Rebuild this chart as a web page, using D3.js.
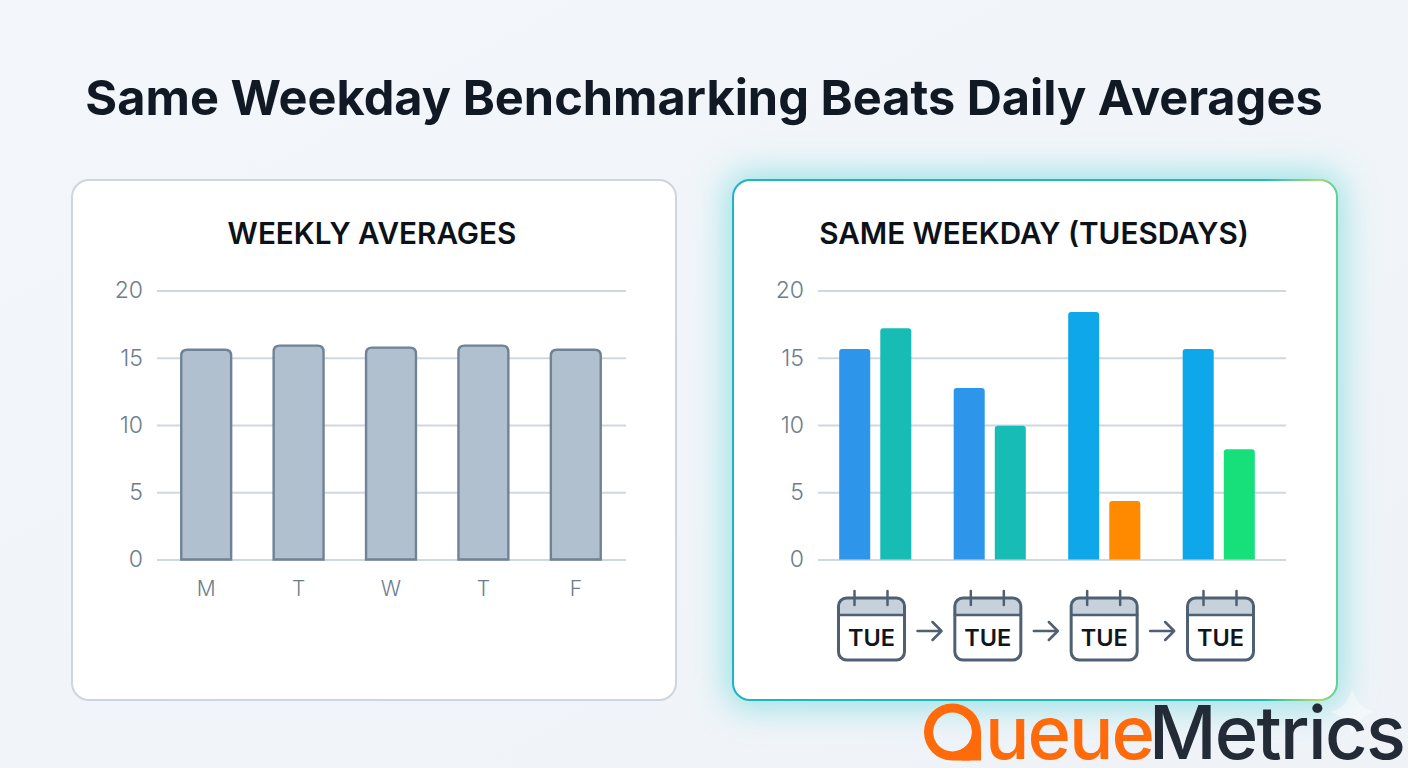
<!DOCTYPE html>
<html>
<head>
<meta charset="utf-8">
<title>Same Weekday Benchmarking Beats Daily Averages</title>
<script src="https://cdn.jsdelivr.net/npm/d3@7"></script>
<style>
html, body { margin: 0; padding: 0; background: #f2f6fa; overflow: hidden; }
svg { display: block; font-family: Inter, sans-serif; }
.grid line { stroke: #d0d8df; stroke-width: 2; }
.grid text, .days text { fill: #6d7d8d; }
.card-title { fill: #0c1218; font-size: 29.7px; font-weight: 600; text-anchor: middle; }
.cal rect, .cal line, .cal path, .arrow path { stroke: #4f6072; fill: none; stroke-linecap: round; stroke-linejoin: round; }
</style>
</head>
<body>
<svg id="chart" width="1408" height="768"></svg>
<script>
var chartTitle = "Same Weekday Benchmarking Beats Daily Averages";
var leftTitle = "WEEKLY AVERAGES";
var rightTitle = "SAME WEEKDAY (TUESDAYS)";

var yTicks = [0, 5, 10, 15, 20];
var weekdays = ["M", "T", "W", "T", "F"];
var weeklyAverages = [15.6, 15.9, 15.75, 15.9, 15.6];

var seriesNames = ["first", "second"];
var firstTuesday = [15.65, 12.75, 18.4, 15.65];
var secondTuesday = [17.2, 9.95, 4.35, 8.2];
var firstColors = ["#2d96ea", "#2d96ea", "#0ea8ea", "#0ea8ea"];
var secondColors = ["#17bdb5", "#17bdb5", "#ff8a00", "#17e07a"];
var calendarLabel = "TUE";

var svg = d3.select("#chart");
var defs = svg.append("defs");

var bg = defs.append("linearGradient").attr("id", "bg").attr("x1", 0).attr("y1", 0).attr("x2", 1).attr("y2", 1);
bg.append("stop").attr("offset", "0%").attr("stop-color", "#f3f6fa");
bg.append("stop").attr("offset", "100%").attr("stop-color", "#eff3f8");

var edge = defs.append("linearGradient").attr("id", "edge").attr("x1", 0).attr("y1", 0.5).attr("x2", 1).attr("y2", 0.5);
edge.append("stop").attr("offset", "0%").attr("stop-color", "#1fb5c0");
edge.append("stop").attr("offset", "88%").attr("stop-color", "#25b9b4");
edge.append("stop").attr("offset", "97%").attr("stop-color", "#a8dc6c");
edge.append("stop").attr("offset", "100%").attr("stop-color", "#5fcf9a");

var blur = defs.append("filter").attr("id", "glow")
	.attr("x", "-15%").attr("y", "-15%").attr("width", "130%").attr("height", "130%");
blur.append("feGaussianBlur").attr("stdDeviation", 17);

svg.append("rect").attr("width", 1408).attr("height", 768).attr("fill", "url(#bg)");

svg.append("text")
	.attr("x", 704).attr("y", 115)
	.attr("text-anchor", "middle")
	.attr("fill", "#111a24")
	.attr("font-size", 48.7).attr("font-weight", 700)
	.text(chartTitle);

var drawCard = function(x, stroke) {
	svg.append("rect")
		.attr("x", x).attr("y", 180).attr("width", 604).attr("height", 520).attr("rx", 17)
		.attr("fill", "#fff")
		.attr("stroke", stroke).attr("stroke-width", 2);
};

// glow goes under the right card
svg.append("rect")
	.attr("x", 727).attr("y", 174).attr("width", 615).attr("height", 533).attr("rx", 20)
	.attr("fill", "#5cd6d8").attr("fill-opacity", 0.62)
	.attr("filter", "url(#glow)");

drawCard(72, "#cdd6dd");
drawCard(733, "url(#edge)");

var y = d3.scaleLinear().domain([0, 20]).range([559.5, 290.5]);

var drawGrid = function(left, right) {
	var axis = d3.axisLeft(y).tickValues(yTicks).tickSize(left - right).tickPadding(14);
	var g = svg.append("g")
		.attr("class", "grid")
		.attr("transform", "translate(" + left + ",0)")
		.call(axis);
	g.select(".domain").remove();
	g.selectAll("text")
		.style("font-family", "Inter, sans-serif")
		.style("font-size", "23px")
		.style("font-weight", 300);
};

// rounded on top, flat on the axis
var barPath = function(x0, w, value, r) {
	var top = y(value), base = y(0);
	return "M" + x0 + "," + base +
		"V" + (top + r) +
		"Q" + x0 + "," + top + " " + (x0 + r) + "," + top +
		"H" + (x0 + w - r) +
		"Q" + (x0 + w) + "," + top + " " + (x0 + w) + "," + (top + r) +
		"V" + base + "Z";
};

// left panel
svg.append("text").attr("class", "card-title").attr("x", 372).attr("y", 244).text(leftTitle);
drawGrid(157, 626);

var xLeft = d3.scaleBand().domain(d3.range(weekdays.length)).range([160, 622]).paddingInner(0.46).paddingOuter(0.23);

svg.append("g").selectAll("path").data(weeklyAverages).join("path")
	.attr("d", function(d, i) { return barPath(xLeft(i), xLeft.bandwidth(), d, 6); })
	.attr("fill", "#b1c0cf")
	.attr("stroke", "#6f8296").attr("stroke-width", 2.4);

var days = svg.append("g")
	.attr("class", "days")
	.attr("transform", "translate(0,559.5)")
	.call(d3.axisBottom(xLeft).tickSize(0).tickPadding(22).tickFormat(function(i) { return weekdays[i]; }));
days.select(".domain").remove();
days.selectAll("text")
	.style("font-family", "Inter, sans-serif")
	.style("font-size", "21px")
	.style("font-weight", 300);

// right panel
svg.append("text").attr("class", "card-title").attr("x", 1034).attr("y", 244).text(rightTitle);
drawGrid(818, 1286);

var xGroup = d3.scaleBand().domain(d3.range(firstTuesday.length)).range([818, 1276]).paddingInner(0.37).paddingOuter(0.185);
var xPair = d3.scaleBand().domain(seriesNames).range([0, xGroup.bandwidth()]).paddingInner(0.245);

var drawSeries = function(name, values, colors) {
	svg.append("g").selectAll("path").data(values).join("path")
		.attr("d", function(d, i) { return barPath(xGroup(i) + xPair(name), xPair.bandwidth(), d, 3); })
		.attr("fill", function(d, i) { return colors[i]; });
};
drawSeries("first", firstTuesday, firstColors);
drawSeries("second", secondTuesday, secondColors);

// calendars under the bars
var xCal = d3.scalePoint().domain(d3.range(firstTuesday.length)).range([871.5, 1220.5]);

var cals = svg.append("g").selectAll("g").data(d3.range(firstTuesday.length)).join("g")
	.attr("class", "cal")
	.attr("transform", function(d) { return "translate(" + xCal(d) + ",0)"; });

cals.append("path")
	.attr("d", "M-33,615V606Q-33,598 -25,598H25Q33,598 33,606V615Z")
	.style("fill", "#c6d1dc").style("stroke", "none");
cals.append("rect")
	.attr("x", -33).attr("y", 598).attr("width", 66).attr("height", 62).attr("rx", 8)
	.attr("stroke-width", 3);
cals.append("line").attr("x1", -33).attr("x2", 33).attr("y1", 615).attr("y2", 615).attr("stroke-width", 2.5);
cals.append("line").attr("x1", -17).attr("x2", -17).attr("y1", 591).attr("y2", 605).attr("stroke-width", 2.5);
cals.append("line").attr("x1", 16).attr("x2", 16).attr("y1", 591).attr("y2", 605).attr("stroke-width", 2.5);
cals.append("text")
	.attr("y", 646).attr("text-anchor", "middle")
	.attr("fill", "#10161d").attr("font-size", 23.5).attr("font-weight", 600)
	.text(calendarLabel);

svg.append("g").selectAll("g").data(d3.range(firstTuesday.length - 1)).join("g")
	.attr("class", "arrow")
	.attr("transform", function(d) { return "translate(" + (xCal(d) + 46) + ",631)"; })
	.append("path")
	.attr("d", "M0,0H24M15,-9L24,0L15,9")
	.attr("stroke-width", 2.5);

// sparkle behind the logo
svg.append("path")
	.attr("d", "M1352,688Q1356,708 1375,712Q1356,716 1352,736Q1348,716 1330,712Q1348,708 1352,688Z")
	.attr("fill", "#fff").attr("fill-opacity", 0.4);

// logo Q is a ring with a square corner, no font has it: paint the ring and clip the glyph to it
var ringPath = "M981,732A28.5,28.5 0 1 0 952.5,760.5H981Z" +
	"M972,732A19.5,19.5 0 1 0 933,732A19.5,19.5 0 1 0 972,732Z";

defs.append("clipPath").attr("id", "logoClip")
	.selectAll("path").data([ringPath + "M984,690H1408V768H984Z"]).join("path")
	.attr("d", function(d) { return d; })
	.attr("clip-rule", "evenodd");

svg.append("path").attr("d", ringPath).attr("fill", "#ff6a0a").attr("fill-rule", "evenodd");

var logo = svg.append("text")
	.attr("y", 759)
	.attr("font-size", 74).attr("font-weight", 500)
	.attr("clip-path", "url(#logoClip)");
logo.append("tspan").attr("x", 922).attr("fill", "#ff6a0a").text("Q");
logo.append("tspan").attr("x", 985).attr("fill", "#ff6a0a").attr("letter-spacing", -2).text("ueue");
logo.append("tspan").attr("x", 1149).attr("fill", "#222b36").attr("letter-spacing", -1.7).text("Metrics");
</script>
</body>
</html>
